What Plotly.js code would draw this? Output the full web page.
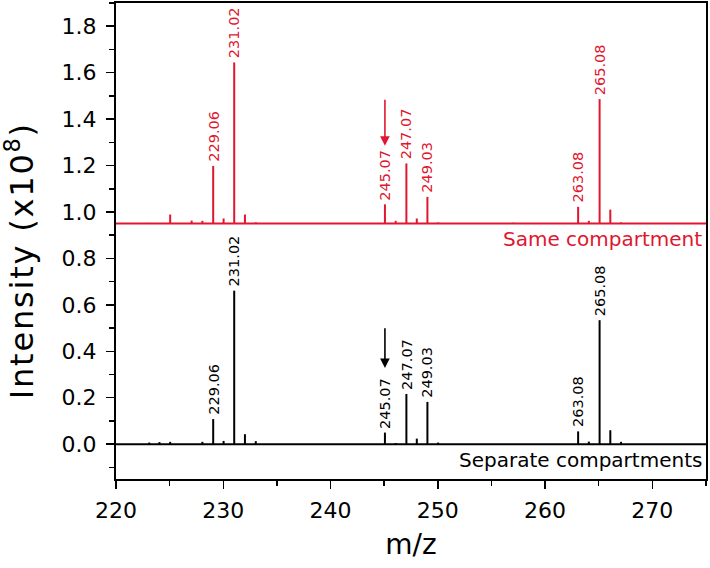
<!DOCTYPE html>
<html>
<head>
<meta charset="utf-8">
<script src="https://cdn.plot.ly/plotly-3.0.1.min.js"></script>
<style>
  html, body { margin: 0; padding: 0; background: #fff; }
  #chart { width: 710px; height: 568px; }
  g.annotation[data-index="0"] text { letter-spacing: 1.8px; }
</style>
</head>
<body>
<div id="chart"></div>
<script>
// ---- data ----
const sameMz  = [223.10, 225.05, 227.05, 228.05, 229.06, 230.03, 231.02, 232.02, 233.03,
                 245.07, 246.07, 247.07, 248.04, 249.03, 250.03, 257.05,
                 263.08, 264.08, 265.08, 266.08, 267.08];
const sameInt = [0.003, 0.039, 0.013, 0.012, 0.248, 0.022, 0.694, 0.039, 0.005,
                 0.083, 0.012, 0.259, 0.022, 0.115, 0.005, 0.004,
                 0.072, 0.012, 0.536, 0.060, 0.005];
const sameOffset = 0.95;

const sepMz  = [223.10, 224.05, 225.05, 228.05, 229.06, 230.03, 231.02, 232.02, 233.03,
                245.07, 246.07, 247.07, 248.04, 249.03, 250.03,
                263.08, 264.08, 265.08, 266.08, 267.08];
const sepInt = [0.007, 0.009, 0.010, 0.010, 0.108, 0.014, 0.661, 0.043, 0.013,
                0.050, 0.005, 0.216, 0.024, 0.182, 0.007,
                0.055, 0.011, 0.534, 0.060, 0.010];
const sepOffset = 0.0;

const labelMz = [229.06, 231.02, 245.07, 247.07, 249.03, 263.08, 265.08];
const labelText = ["229.06", "231.02", "245.07", "247.07", "249.03", "263.08", "265.08"];

const arrowMz = 245.07;
const sameArrow = [1.49, 1.285];   // tail, tip
const sepArrow  = [0.506, 0.328];  // tail, tip

const xRange = [220, 275];
const yRange = [-0.15, 1.9];
const seriesNames = ["Same compartment", "Separate compartments"];
const xTitle = "m/z";
const yTitle = "Intensity (x10<sup>8</sup>)";

// ---- build ----
const RED = "#e0162f";
const BLACK = "#000000";
const FONT = "DejaVu Sans";

function sticks(mz, inten, off) {
  const x = [], y = [];
  mz.forEach((m, i) => { x.push(m, m, null); y.push(off, off + inten[i], null); });
  return {x, y};
}
const s1 = sticks(sameMz, sameInt, sameOffset);
const s2 = sticks(sepMz, sepInt, sepOffset);

const traces = [
  {x: xRange, y: [sameOffset, sameOffset], mode: "lines", line: {color: RED, width: 2}, hoverinfo: "skip", showlegend: false},
  {x: xRange, y: [sepOffset, sepOffset], mode: "lines", line: {color: BLACK, width: 2}, hoverinfo: "skip", showlegend: false},
  {x: s1.x, y: s1.y, mode: "lines", name: seriesNames[0], line: {color: RED, width: 2}, connectgaps: false, showlegend: false},
  {x: s2.x, y: s2.y, mode: "lines", name: seriesNames[1], line: {color: BLACK, width: 2}, connectgaps: false, showlegend: false}
];

const annotations = [
  {text: yTitle, xref: "paper", yref: "paper", x: -0.163, y: 0.458, showarrow: false,
   textangle: -90, xanchor: "center", yanchor: "middle", font: {family: FONT, size: 32, color: BLACK}}
];

function lookup(mz, inten, m) { const i = mz.indexOf(m); return i >= 0 ? inten[i] : 0; }
labelMz.forEach((m, i) => {
  annotations.push({text: labelText[i], x: m, y: sameOffset + lookup(sameMz, sameInt, m), xref: "x", yref: "y",
    showarrow: false, textangle: -90, xanchor: "center", yanchor: "bottom", yshift: 2,
    font: {family: FONT, size: 14.5, color: RED}});
  annotations.push({text: labelText[i], x: m, y: sepOffset + lookup(sepMz, sepInt, m), xref: "x", yref: "y",
    showarrow: false, textangle: -90, xanchor: "center", yanchor: "bottom", yshift: 2,
    font: {family: FONT, size: 14.5, color: BLACK}});
});

annotations.push({text: "", x: arrowMz, y: sameArrow[1], ax: arrowMz, ay: sameArrow[0], xref: "x", yref: "y",
  axref: "x", ayref: "y", showarrow: true, arrowhead: 2, arrowsize: 1.2, arrowwidth: 1.6, arrowcolor: RED});
annotations.push({text: "", x: arrowMz, y: sepArrow[1], ax: arrowMz, ay: sepArrow[0], xref: "x", yref: "y",
  axref: "x", ayref: "y", showarrow: true, arrowhead: 2, arrowsize: 1.2, arrowwidth: 1.6, arrowcolor: BLACK});

annotations.push({text: seriesNames[0], xref: "paper", yref: "y", x: 1, y: sameOffset, xanchor: "right", yanchor: "middle",
  xshift: -2, yshift: -15, showarrow: false, font: {family: FONT, size: 20, color: RED}});
annotations.push({text: seriesNames[1], xref: "paper", yref: "y", x: 1, y: sepOffset, xanchor: "right", yanchor: "middle",
  xshift: -2, yshift: -16, showarrow: false, font: {family: FONT, size: 20, color: BLACK}});

const layout = {
  width: 710, height: 568,
  margin: {l: 116, r: 4, t: 3, b: 89, pad: 0},
  paper_bgcolor: "#fff", plot_bgcolor: "#fff",
  font: {family: FONT, color: BLACK},
  showlegend: false,
  xaxis: {
    range: xRange, tick0: 220, dtick: 10, ticks: "outside", ticklen: 8, tickwidth: 1.5, tickcolor: BLACK,
    showline: true, linewidth: 2, linecolor: BLACK, mirror: true, showgrid: false, zeroline: false,
    ticklabelstandoff: 3,
    tickfont: {family: FONT, size: 22, color: BLACK},
    minor: {dtick: 5, tick0: 220, ticks: "outside", ticklen: 5, tickwidth: 1.5, tickcolor: BLACK, showgrid: false},
    title: {text: xTitle, font: {family: FONT, size: 28, color: BLACK}, standoff: 12}
  },
  yaxis: {
    range: yRange, tick0: 0, dtick: 0.2, tickformat: ".1f", ticks: "outside", ticklen: 8, tickwidth: 1.5, tickcolor: BLACK,
    showline: true, linewidth: 2, linecolor: BLACK, mirror: true, showgrid: false, zeroline: false,
    ticklabelstandoff: 5,
    tickfont: {family: FONT, size: 22, color: BLACK},
    minor: {dtick: 0.1, tick0: 0, ticks: "outside", ticklen: 5, tickwidth: 1.5, tickcolor: BLACK, showgrid: false}
  },
  annotations: annotations
};

Plotly.newPlot("chart", traces, layout, {displayModeBar: false, staticPlot: true});
</script>
</body>
</html>
